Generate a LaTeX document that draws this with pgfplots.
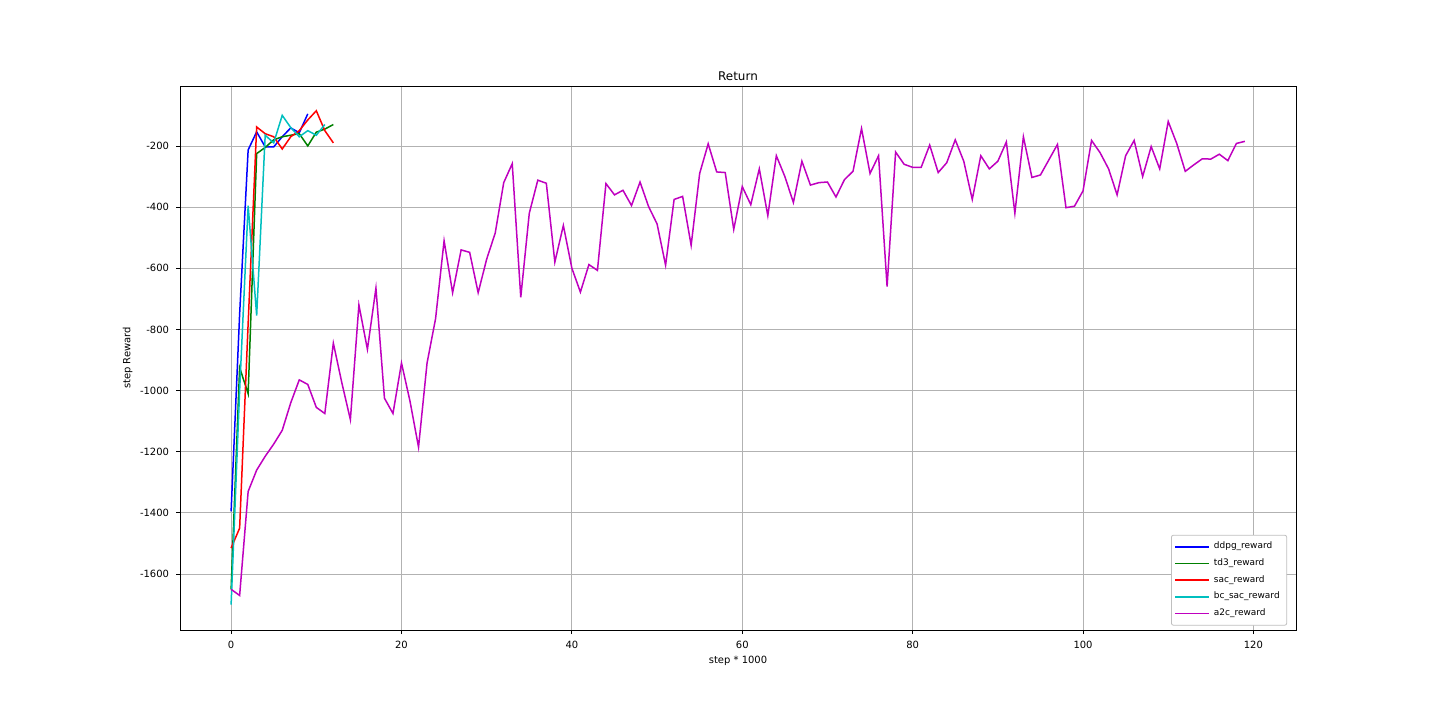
\documentclass[border=0pt]{standalone}
\usepackage{pgfplots}
\pgfplotsset{compat=1.18}
\usepackage{fontspec}
\setmainfont{DejaVu Sans}
\definecolor{mb}{HTML}{0000FF}
\definecolor{mg}{HTML}{008000}
\definecolor{mr}{HTML}{FF0000}
\definecolor{mc}{HTML}{00BFBF}
\definecolor{mm}{HTML}{BF00BF}
\begin{document}
\begin{tikzpicture}
\path (-90bp,-45bp) rectangle (630bp,315bp);
\begin{axis}[at={(0,0)}, anchor=south west, scale only axis,
 width=558bp, height=272bp,
 xmin=-6, xmax=125, ymin=-1783, ymax=-4,
 xtick={0,20,...,120}, ytick={-1600,-1400,...,-200},
 grid=major, grid style={gray!60, line width=0.4bp},
 axis line style={line width=0.4bp},
 tick style={black, line width=0.4bp}, tick align=outside,
 xtick pos=bottom, ytick pos=left, major tick length=2bp,
 /pgf/number format/assume math mode=true,
 /pgf/number format/1000 sep={},
 tick label style={font=\fontsize{5}{6}\selectfont},
 label style={font=\fontsize{5}{6}\selectfont},
 title style={font=\fontsize{6}{7}\selectfont, yshift=-7bp},
 title={Return}, xlabel={step * 1000}, ylabel={step Reward},
 xlabel style={yshift=3bp}, ylabel style={yshift=-3bp},
 every axis plot/.append style={line width=0.75bp, mark=none},
 legend style={font=\fontsize{4.5}{5.5}\selectfont, at={(0.992,0.008)}, anchor=south east,
  draw=gray!50, rounded corners=1bp, fill=white, row sep=-0.6bp, inner sep=1.5bp},
 legend cell align=left,
]
\addplot[mb] coordinates {(0,-1395)(1,-750)(2,-213)(3,-154)(4,-203)(5,-203)(6,-170)(7,-141)(8,-157)(9,-95)};
\addlegendentry{ddpg\_reward}
\addplot[mg] coordinates {(0,-1650)(1,-925)(2,-1010)(3,-225)(4,-205)(5,-180)(6,-170)(7,-165)(8,-160)(9,-200)(10,-155)(11,-145)(12,-130)};
\addlegendentry{td3\_reward}
\addplot[mr] coordinates {(0,-1515)(1,-1450)(2,-780)(3,-138)(4,-160)(5,-170)(6,-210)(7,-170)(8,-150)(9,-115)(10,-85)(11,-150)(12,-190)};
\addlegendentry{sac\_reward}
\addplot[mc] coordinates {(0,-1700)(1,-1000)(2,-395)(3,-755)(4,-165)(5,-190)(6,-100)(7,-140)(8,-170)(9,-150)(10,-165)(11,-130)};
\addlegendentry{bc\_sac\_reward}
\addplot[mm] coordinates {(0,-1650)(1,-1670)(2,-1330)(3,-1260)(4,-1215)(5,-1175)(6,-1130)(7,-1040)(8,-965)(9,-980)(10,-1055)(11,-1075)(12,-845)(13,-975)(14,-1095)(15,-720)(16,-865)(17,-665)(18,-1025)(19,-1075)(20,-910)(21,-1035)(22,-1185)(23,-910)(24,-765)(25,-510)(26,-680)(27,-540)(28,-548)(29,-680)(30,-570)(31,-485)(32,-320)(33,-258)(34,-695)(35,-420)(36,-312)(37,-322)(38,-580)(39,-460)(40,-600)(41,-678)(42,-588)(43,-607)(44,-323)(45,-360)(46,-345)(47,-395)(48,-318)(49,-398)(50,-455)(51,-590)(52,-375)(53,-365)(54,-525)(55,-290)(56,-193)(57,-285)(58,-287)(59,-473)(60,-333)(61,-392)(62,-275)(63,-428)(64,-232)(65,-300)(66,-385)(67,-250)(68,-328)(69,-320)(70,-318)(71,-367)(72,-310)(73,-283)(74,-143)(75,-290)(76,-232)(77,-660)(78,-220)(79,-260)(80,-270)(81,-270)(82,-197)(83,-287)(84,-255)(85,-180)(86,-250)(87,-375)(88,-232)(89,-275)(90,-250)(91,-187)(92,-420)(93,-170)(94,-303)(95,-295)(96,-245)(97,-195)(98,-402)(99,-397)(100,-347)(101,-182)(102,-222)(103,-275)(104,-360)(105,-232)(106,-182)(107,-300)(108,-202)(109,-275)(110,-120)(111,-192)(112,-283)(113,-262)(114,-242)(115,-243)(116,-227)(117,-248)(118,-192)(119,-185)};
\addlegendentry{a2c\_reward}
\end{axis}
\end{tikzpicture}
\end{document}
